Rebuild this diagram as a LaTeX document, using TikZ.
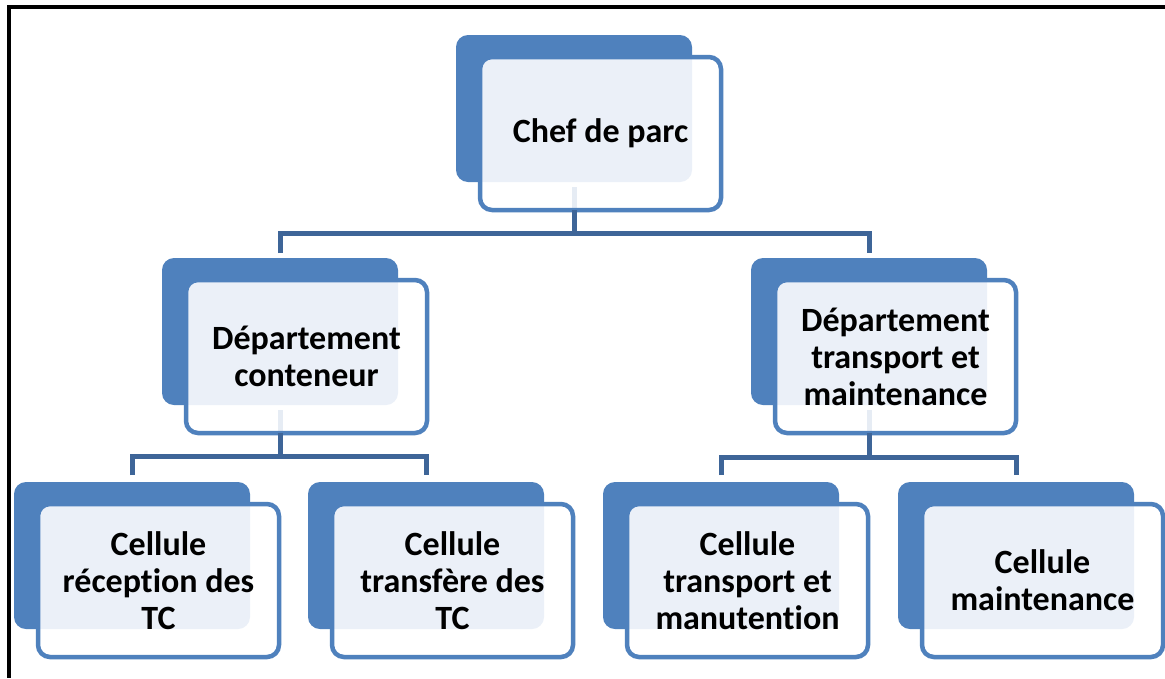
\documentclass[tikz,border=0pt]{standalone}
\usepackage{fontspec}
\setmainfont[Ligatures={NoCommon}]{Carlito}
\usetikzlibrary{calc}
\definecolor{accent}{HTML}{4F81BD}
\definecolor{connblue}{HTML}{3E6598}
\definecolor{overlapfill}{HTML}{EBF0F8}
\definecolor{faintline}{HTML}{E6ECF4}
\tikzset{
 backbox/.style={rectangle, fill=accent, rounded corners=12pt, minimum width=236pt, minimum height=147pt, inner sep=0pt, outer sep=0pt, anchor=north west},
 frontbox/.style={rectangle, fill=white, rounded corners=12pt, minimum width=241pt, minimum height=153pt, inner sep=0pt, outer sep=0pt, anchor=north west},
 frontborder/.style={draw=accent, line width=4.5pt, rounded corners=12pt},
 overlapped/.style={fill=overlapfill, rounded corners=12pt},
 boxtext/.style={font=\bfseries\fontsize{34pt}{37pt}\selectfont, align=center, text=black, inner sep=0pt},
 conn/.style={draw=connblue, line width=5pt},
 faint/.style={draw=faintline, line width=5pt},
 frameline/.style={draw=black, line width=4pt},
}
\newcommand\orgbox[4]{%
 \node[backbox] (#1b) at (#2,#3) {};
 \node[frontbox] (#1f) at (#2+24,#3+22) {};
 \begin{scope}
  \clip[rounded corners=12pt] (#1b.north west) rectangle (#1b.south east);
  \path[overlapped] (#1f.north west) rectangle (#1f.south east);
 \end{scope}
}
\newcommand\orgborder[2]{%
 \draw[frontborder] (#1f.north west) rectangle (#1f.south east);
 \node[boxtext] (#1t) at (#1f.center) {#2};
}
\begin{document}
\begin{tikzpicture}[x=1pt,y=-1pt]
\useasboundingbox[fill=white] (0,0) rectangle (1165,678);
% boxes
\orgbox{top}{456}{35}{}
\orgbox{ld}{162}{258}{}
\orgbox{rd}{751}{258}{}
\orgbox{ca}{14}{482}{}
\orgbox{cb}{308}{482}{}
\orgbox{cc}{603}{482}{}
\orgbox{cd}{898}{482}{}
% faint connector parts seen through the front boxes
\draw[faint] ($(topb.south)+(0,-5pt)$) -- (topb.south |- topf.south);
\draw[faint] ($(ldb.south)+(0,-5pt)$) -- (ldb.south |- ldf.south);
\draw[faint] ($(rdb.south)+(0,-5pt)$) -- (rdb.south |- rdf.south);
% borders and texts
\orgborder{top}{Chef de parc}
\orgborder{ld}{Département\\conteneur}
\orgborder{rd}{Département\\transport et\\maintenance}
\orgborder{ca}{Cellule\\réception des\\TC}
\orgborder{cb}{Cellule\\transfère des\\TC}
\orgborder{cc}{Cellule\\transport et\\manutention}
\orgborder{cd}{Cellule\\maintenance}
% connectors
\coordinate (busone) at (0,233.5);
\coordinate (bustwo) at (0,456.5);
\coordinate (busthree) at (0,457.5);
\draw[conn] (topb.south |- topf.south) -- (topb.south |- busone);
\draw[conn] ($(ldb.north)+(0,5pt)$) -- (ldb.north |- busone) -- (rdb.north |- busone) -- ($(rdb.north)+(0,5pt)$);
\draw[conn] (ldb.south |- ldf.south) -- (ldb.south |- bustwo);
\draw[conn] ($(cab.north)+(0,7pt)$) -- (cab.north |- bustwo) -- (cbb.north |- bustwo) -- ($(cbb.north)+(0,7pt)$);
\draw[conn] (rdb.south |- rdf.south) -- (rdb.south |- busthree);
\draw[conn] ($(ccb.north)+(0,7pt)$) -- (ccb.north |- busthree) -- (cdb.north |- busthree) -- ($(cdb.north)+(0,7pt)$);
% frame
\draw[frameline] (7,7) -- (1165,7);
\draw[frameline] (9,5) -- (9,678);
\end{tikzpicture}
\end{document}
